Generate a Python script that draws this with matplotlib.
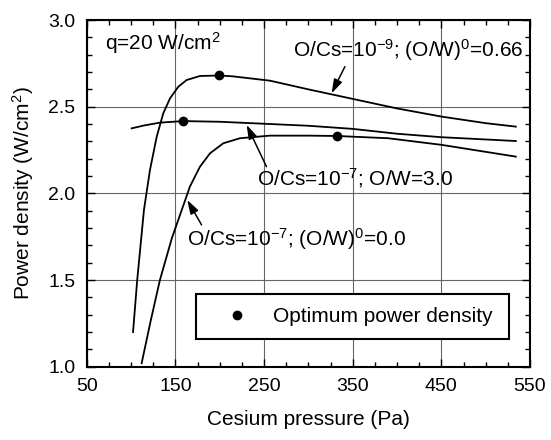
import matplotlib
matplotlib.use("Agg")
import matplotlib.pyplot as plt
from matplotlib.lines import Line2D
from matplotlib.ticker import MultipleLocator

plt.rcParams['font.family'] = ['Liberation Sans', 'DejaVu Sans']
plt.rcParams['mathtext.fontset'] = 'custom'
plt.rcParams['mathtext.rm'] = 'Liberation Sans'
plt.rcParams['mathtext.it'] = 'Liberation Sans:italic'
plt.rcParams['mathtext.default'] = 'regular'

# ---- data ----
x_a = [102.3, 107, 114.6, 121.4, 129, 136.4, 144, 153.3, 162.8, 177.8, 199.6, 215, 256.8, 300, 350, 400, 450, 500, 534]
y_a = [1.20, 1.50, 1.904, 2.135, 2.327, 2.462, 2.548, 2.615, 2.654, 2.677, 2.68, 2.675, 2.65, 2.60, 2.545, 2.49, 2.443, 2.405, 2.385]

x_b = [100.7, 115, 132.7, 159, 200.3, 256.8, 300, 350, 400, 450, 534]
y_b = [2.375, 2.392, 2.408, 2.417, 2.413, 2.40, 2.39, 2.372, 2.344, 2.324, 2.302]

x_c = [112, 122, 132.6, 146, 159, 166.5, 177.8, 189.1, 204.1, 222.9, 256.8, 300, 332.5, 350, 390, 450, 534]
y_c = [1.02, 1.26, 1.50, 1.74, 1.93, 2.04, 2.154, 2.231, 2.289, 2.318, 2.333, 2.333, 2.331, 2.327, 2.318, 2.28, 2.212]

opt_x = [199.6, 159, 332.5]
opt_y = [2.68, 2.417, 2.331]

xticks = [50, 150, 250, 350, 450, 550]
yticks = [1.0, 1.5, 2.0, 2.5, 3.0]

fig = plt.figure(figsize=(5.51, 4.40), dpi=100)
ax = fig.add_axes([0.1573, 0.1666, 0.9619 - 0.1573, 0.9545 - 0.1666])

lw = 1.3
ax.plot(x_a, y_a, color='black', lw=lw)
ax.plot(x_b, y_b, color='black', lw=lw)
ax.plot(x_c, y_c, color='black', lw=lw)
ax.plot(opt_x, opt_y, 'o', color='black', ms=6, zorder=5)

ax.set_xlim(50, 550)
ax.set_ylim(1.0, 3.0)
ax.set_xticks(xticks)
ax.set_yticks(yticks)
ax.set_yticklabels([f"{v:.1f}" for v in yticks])
ax.xaxis.set_minor_locator(MultipleLocator(25))
ax.yaxis.set_minor_locator(MultipleLocator(0.1))
ax.tick_params(which='both', direction='in', top=True, right=True, labelsize=14, width=1.0)
ax.tick_params(which='major', length=6, pad=8)
ax.tick_params(which='minor', length=3.5)
for s in ax.spines.values():
    s.set_linewidth(1.5)
ax.grid(True, which='major', color='0.4', lw=0.8)
ax.set_axisbelow(True)

ax.set_xlabel('Cesium pressure (Pa)', fontsize=15)
ax.set_ylabel('Power density (W/cm$^2$)', fontsize=15)
ax.xaxis.set_label_coords(0.5, -0.125)
ax.yaxis.set_label_coords(-0.115, 0.5)

fs = 15
ax.text(70.6, 2.831, 'q=20 W/cm$^2$', fontsize=fs, ha='left', va='baseline')
ax.text(283.0, 2.788, 'O/Cs=10$^{-9}$; (O/W)$^0$=0.66', fontsize=fs, ha='left', va='baseline')
ax.text(242.4, 2.048, 'O/Cs=10$^{-7}$; O/W=3.0', fontsize=fs, ha='left', va='baseline')
ax.text(162.8, 1.696, 'O/Cs=10$^{-7}$; (O/W)$^0$=0.0', fontsize=fs, ha='left', va='baseline')

aprops = dict(arrowstyle='-|>,head_length=0.7,head_width=0.22', color='black', lw=1.1,
              mutation_scale=12, shrinkA=0, shrinkB=0)
ax.annotate('', xy=(326.2, 2.577), xytext=(341.2, 2.731), arrowprops=aprops)
ax.annotate('', xy=(230.4, 2.395), xytext=(252.8, 2.154), arrowprops=aprops)
ax.annotate('', xy=(163.4, 1.962), xytext=(179.6, 1.818), arrowprops=aprops)

handle = Line2D([], [], ls='none', marker='o', color='black', ms=6)
leg = ax.legend([handle], ['Optimum power density'], loc='center', mode='expand',
                bbox_to_anchor=(0.2466, 0.0741, 0.7067, 0.1422), borderaxespad=0,
                fontsize=fs, fancybox=False, frameon=True, borderpad=0.62,
                handlelength=2.7, handletextpad=0.36, numpoints=1)
leg.get_frame().set_edgecolor('black')
leg.get_frame().set_linewidth(1.5)
leg.get_frame().set_alpha(1)

fig.savefig('out.png', dpi=100)
